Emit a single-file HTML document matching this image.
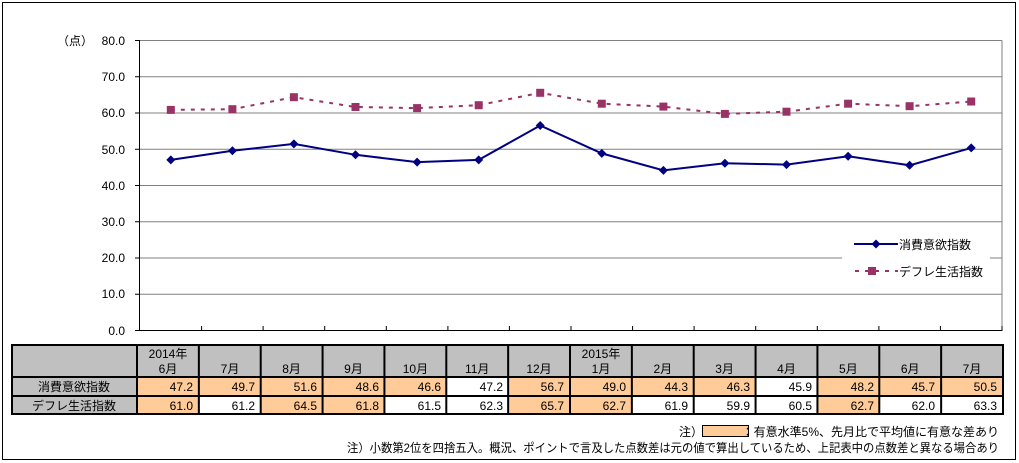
<!DOCTYPE html>
<html><head><meta charset="utf-8"><style>
body{margin:0;background:#fff;}
svg{display:block;font-family:"Liberation Sans","Noto Sans CJK JP",sans-serif;}
</style></head><body>
<svg width="1019" height="463" xmlns="http://www.w3.org/2000/svg">
<rect x="2.5" y="2.5" width="1013" height="457" fill="#fff" stroke="#000" stroke-width="1"/>
<g stroke="#808080" stroke-width="1">
<line x1="140" y1="40.5" x2="1002" y2="40.5"/>
<line x1="140" y1="76.75" x2="1002" y2="76.75"/>
<line x1="140" y1="113" x2="1002" y2="113"/>
<line x1="140" y1="149.25" x2="1002" y2="149.25"/>
<line x1="140" y1="185.5" x2="1002" y2="185.5"/>
<line x1="140" y1="221.75" x2="1002" y2="221.75"/>
<line x1="140" y1="258" x2="1002" y2="258"/>
<line x1="140" y1="294.25" x2="1002" y2="294.25"/>
<line x1="1002" y1="40.5" x2="1002" y2="331"/>
</g>
<g stroke="#000" stroke-width="1">
<line x1="139.5" y1="40" x2="139.5" y2="331"/>
<line x1="139" y1="330.5" x2="1002" y2="330.5"/>
<line x1="135" y1="40.5" x2="140" y2="40.5"/><line x1="135" y1="76.75" x2="140" y2="76.75"/><line x1="135" y1="113" x2="140" y2="113"/><line x1="135" y1="149.25" x2="140" y2="149.25"/><line x1="135" y1="185.5" x2="140" y2="185.5"/><line x1="135" y1="221.75" x2="140" y2="221.75"/><line x1="135" y1="258" x2="140" y2="258"/><line x1="135" y1="294.25" x2="140" y2="294.25"/><line x1="135" y1="330.5" x2="140" y2="330.5"/>
<path d="M201.6 331v-5M263.1 331v-5M324.7 331v-5M386.3 331v-5M447.9 331v-5M509.4 331v-5M571 331v-5M632.6 331v-5M694.1 331v-5M755.7 331v-5M817.3 331v-5M878.9 331v-5M940.4 331v-5M1002 331v-5"/>
</g>
<g font-size="12" fill="#000" text-anchor="end">
<text x="125" y="45">80.0</text><text x="125" y="81">70.0</text><text x="125" y="117">60.0</text><text x="125" y="154">50.0</text><text x="125" y="190">40.0</text><text x="125" y="226">30.0</text><text x="125" y="262">20.0</text><text x="125" y="298">10.0</text><text x="125" y="335">0.0</text>
<text x="93" y="45">（点）</text>
</g>
<polyline fill="none" stroke="#993366" stroke-width="2" stroke-dasharray="4,6" points="170.8,109.9 232.4,109.2 293.9,97.2 355.5,107 417.1,108.1 478.7,105.2 540.2,92.8 601.8,103.7 663.4,106.6 724.9,113.9 786.5,111.7 848.1,103.7 909.6,106.2 971.2,101.5"/>
<g fill="#993366">
<rect x="166.8" y="105.9" width="8" height="8"/><rect x="228.4" y="105.2" width="8" height="8"/><rect x="289.9" y="93.2" width="8" height="8"/><rect x="351.5" y="103" width="8" height="8"/><rect x="413.1" y="104.1" width="8" height="8"/><rect x="474.7" y="101.2" width="8" height="8"/><rect x="536.2" y="88.8" width="8" height="8"/><rect x="597.8" y="99.7" width="8" height="8"/><rect x="659.4" y="102.6" width="8" height="8"/><rect x="720.9" y="109.9" width="8" height="8"/><rect x="782.5" y="107.7" width="8" height="8"/><rect x="844.1" y="99.7" width="8" height="8"/><rect x="905.6" y="102.2" width="8" height="8"/><rect x="967.2" y="97.5" width="8" height="8"/>
</g>
<polyline fill="none" stroke="#000080" stroke-width="2" points="170.8,159.9 232.4,150.8 293.9,143.9 355.5,154.8 417.1,162.1 478.7,159.9 540.2,125.5 601.8,153.4 663.4,170.4 724.9,163.2 786.5,164.6 848.1,156.3 909.6,165.3 971.2,147.9"/>
<g fill="#000080">
<path d="M170.8 155.4l4.5 4.5-4.5 4.5-4.5-4.5zM232.4 146.3l4.5 4.5-4.5 4.5-4.5-4.5zM293.9 139.4l4.5 4.5-4.5 4.5-4.5-4.5zM355.5 150.3l4.5 4.5-4.5 4.5-4.5-4.5zM417.1 157.6l4.5 4.5-4.5 4.5-4.5-4.5zM478.7 155.4l4.5 4.5-4.5 4.5-4.5-4.5zM540.2 121l4.5 4.5-4.5 4.5-4.5-4.5zM601.8 148.9l4.5 4.5-4.5 4.5-4.5-4.5zM663.4 165.9l4.5 4.5-4.5 4.5-4.5-4.5zM724.9 158.7l4.5 4.5-4.5 4.5-4.5-4.5zM786.5 160.1l4.5 4.5-4.5 4.5-4.5-4.5zM848.1 151.8l4.5 4.5-4.5 4.5-4.5-4.5zM909.6 160.8l4.5 4.5-4.5 4.5-4.5-4.5zM971.2 143.4l4.5 4.5-4.5 4.5-4.5-4.5z"/>
</g>
<rect x="842" y="231" width="148" height="60" fill="#fff"/>
<line x1="854" y1="244" x2="898" y2="244" stroke="#000080" stroke-width="2"/>
<path d="M876 239.5l4.5 4.5-4.5 4.5-4.5-4.5z" fill="#000080"/>
<line x1="855" y1="271" x2="898" y2="271" stroke="#993366" stroke-width="2" stroke-dasharray="4,6"/>
<rect x="868" y="267" width="8" height="8" fill="#993366"/>
<g font-size="12" fill="#000"><text x="899" y="249">消費意欲指数</text><text x="899" y="276">デフレ生活指数</text></g>
<!-- table -->
<g stroke="#000" stroke-width="1">
<rect x="12" y="345" width="991" height="32" fill="#c0c0c0"/>
<rect x="12" y="377" width="125" height="37" fill="#c0c0c0"/>
</g>
<g id="cells" stroke="#000" stroke-width="1">
<rect x="137" y="377" width="61.86" height="19" fill="#ffcc99"/><rect x="198.86" y="377" width="61.86" height="19" fill="#ffcc99"/><rect x="260.71" y="377" width="61.86" height="19" fill="#ffcc99"/><rect x="322.57" y="377" width="61.86" height="19" fill="#ffcc99"/><rect x="384.43" y="377" width="61.86" height="19" fill="#ffcc99"/><rect x="446.29" y="377" width="61.86" height="19" fill="#fff"/><rect x="508.14" y="377" width="61.86" height="19" fill="#ffcc99"/><rect x="570" y="377" width="61.86" height="19" fill="#ffcc99"/><rect x="631.86" y="377" width="61.86" height="19" fill="#ffcc99"/><rect x="693.71" y="377" width="61.86" height="19" fill="#ffcc99"/><rect x="755.57" y="377" width="61.86" height="19" fill="#fff"/><rect x="817.43" y="377" width="61.86" height="19" fill="#ffcc99"/><rect x="879.29" y="377" width="61.86" height="19" fill="#ffcc99"/><rect x="941.14" y="377" width="61.86" height="19" fill="#ffcc99"/>
<rect x="137" y="396" width="61.86" height="18" fill="#ffcc99"/><rect x="198.86" y="396" width="61.86" height="18" fill="#fff"/><rect x="260.71" y="396" width="61.86" height="18" fill="#ffcc99"/><rect x="322.57" y="396" width="61.86" height="18" fill="#ffcc99"/><rect x="384.43" y="396" width="61.86" height="18" fill="#fff"/><rect x="446.29" y="396" width="61.86" height="18" fill="#fff"/><rect x="508.14" y="396" width="61.86" height="18" fill="#ffcc99"/><rect x="570" y="396" width="61.86" height="18" fill="#ffcc99"/><rect x="631.86" y="396" width="61.86" height="18" fill="#fff"/><rect x="693.71" y="396" width="61.86" height="18" fill="#fff"/><rect x="755.57" y="396" width="61.86" height="18" fill="#fff"/><rect x="817.43" y="396" width="61.86" height="18" fill="#ffcc99"/><rect x="879.29" y="396" width="61.86" height="18" fill="#fff"/><rect x="941.14" y="396" width="61.86" height="18" fill="#fff"/>
</g>
<g stroke="#000" stroke-width="2" fill="none">
<rect x="12" y="345" width="991" height="69"/>
<line x1="12" y1="377" x2="1003" y2="377"/><line x1="12" y1="396" x2="1003" y2="396"/>
<path d="M137 345v69M198.86 345v69M260.71 345v69M322.57 345v69M384.43 345v69M446.29 345v69M508.14 345v69M570 345v69M631.86 345v69M693.71 345v69M755.57 345v69M817.43 345v69M879.29 345v69M941.14 345v69"/>
</g>
<g font-size="12" fill="#000" text-anchor="middle">
<text x="168" y="358">2014年</text><text x="168" y="373">6月</text><text x="230" y="373">7月</text><text x="291.6" y="373">8月</text><text x="353.5" y="373">9月</text><text x="415.4" y="373">10月</text><text x="477.2" y="373">11月</text><text x="539" y="373">12月</text><text x="601" y="358">2015年</text><text x="601" y="373">1月</text><text x="662.8" y="373">2月</text><text x="724.6" y="373">3月</text><text x="786.5" y="373">4月</text><text x="848.4" y="373">5月</text><text x="910.2" y="373">6月</text><text x="972" y="373">7月</text>
<text x="74" y="391">消費意欲指数</text><text x="74" y="410">デフレ生活指数</text>
</g>
<g font-size="12" fill="#000" text-anchor="end">
<text x="193" y="391">47.2</text><text x="255" y="391">49.7</text><text x="317" y="391">51.6</text><text x="379" y="391">48.6</text><text x="441" y="391">46.6</text><text x="503" y="391">47.2</text><text x="564" y="391">56.7</text><text x="626" y="391">49.0</text><text x="688" y="391">44.3</text><text x="750" y="391">46.3</text><text x="812" y="391">45.9</text><text x="874" y="391">48.2</text><text x="935" y="391">45.7</text><text x="997" y="391">50.5</text>
<text x="193" y="410">61.0</text><text x="255" y="410">61.2</text><text x="317" y="410">64.5</text><text x="379" y="410">61.8</text><text x="441" y="410">61.5</text><text x="503" y="410">62.3</text><text x="564" y="410">65.7</text><text x="626" y="410">62.7</text><text x="688" y="410">61.9</text><text x="750" y="410">59.9</text><text x="812" y="410">60.5</text><text x="874" y="410">62.7</text><text x="935" y="410">62.0</text><text x="997" y="410">63.3</text>
</g>
<rect x="702.5" y="425.5" width="46" height="11" fill="#ffcc99" stroke="#000" stroke-width="1"/>
<g font-size="12" fill="#000">
<text x="679" y="436">注）</text>
<text x="999" y="436" text-anchor="end">：有意水準5%、先月比で平均値に有意な差あり</text>
<text x="999" y="452" text-anchor="end" textLength="652" lengthAdjust="spacingAndGlyphs">注）小数第2位を四捨五入。概況、ポイントで言及した点数差は元の値で算出しているため、上記表中の点数差と異なる場合あり</text>
</g>
</svg>
</body></html>
